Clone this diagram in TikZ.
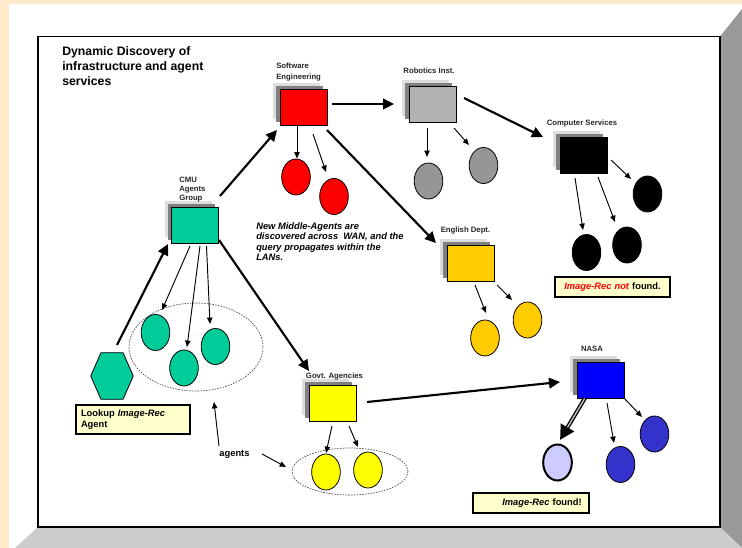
\documentclass[tikz,border=0pt]{standalone}
\usepackage{fontspec}
\setmainfont{Liberation Sans}
\usetikzlibrary{arrows.meta,calc,shapes.geometric,shadows}
\definecolor{bgorange}{HTML}{FFEACC}
\definecolor{frameright}{HTML}{999999}
\definecolor{framebottom}{HTML}{CCCCCC}
\definecolor{shadowdark}{HTML}{808080}
\definecolor{shadowlight}{HTML}{DDDDDD}
\definecolor{tealc}{HTML}{00CC99}
\definecolor{robgrey}{HTML}{B2B2B2}
\definecolor{robcirc}{HTML}{969696}
\definecolor{engc}{HTML}{FFCC00}
\definecolor{govc}{HTML}{FFFF00}
\definecolor{nasac}{HTML}{0000FF}
\definecolor{nasacirc}{HTML}{3333CC}
\definecolor{lightblue}{HTML}{CCCCFF}
\definecolor{notefill}{HTML}{FFFFCC}
\begin{document}
\begin{tikzpicture}[x=0.75pt,y=-0.75pt,
  dept/.style={draw=black, line width=0.6pt, minimum width=35.25pt, minimum height=27pt, inner sep=0pt,
    general shadow={fill=shadowlight, shadow xshift=-5.25pt, shadow yshift=4.5pt},
    general shadow={fill=shadowdark, shadow xshift=-3pt, shadow yshift=2.25pt}},
  agent/.style={ellipse, draw=black, line width=0.6pt, minimum width=21.5pt, minimum height=27pt, inner sep=0pt},
  grp/.style={ellipse, draw=black!70, dash pattern=on 1.2pt off 0.9pt, line width=0.5pt, inner sep=0pt},
  lbl/.style={font=\fontsize{5.8}{8}\selectfont\bfseries, inner sep=0pt, text=black!85},
  note/.style={draw=black, line width=1.5pt, fill=notefill, inner sep=0pt, minimum height=15pt,
    font=\fontsize{7}{8}\selectfont\bfseries},
  thick arrow/.style={line width=1.6pt, -{Triangle[length=8.25pt,width=8pt]}},
  thin arrow/.style={line width=0.7pt, -{Triangle[length=4.8pt,width=4pt]}},
  dbl arrow/.style={line width=3pt, -{Triangle[length=11pt,width=11pt]}},
  dbl core/.style={draw=gray!45, line width=1pt, shorten >=11pt, shorten <=0.5pt},
]
\useasboundingbox (0,0) rectangle (742,548);
% slide frame
\fill[bgorange] (0,0) rectangle (742,548);
\fill[white] (9,4) rectangle (742,548);
\fill[frameright] (720,36.5) -- (742,9) -- (742,548) -- (720,527) -- cycle;
\fill[framebottom] (38,527) -- (720,527) -- (742,548) -- (15,548) -- cycle;
\draw[line width=1pt, fill=white] (38,36.5) rectangle (720,527);

% title
\node[anchor=north west, inner sep=0pt, align=left, font=\fontsize{9.2}{11.25}\selectfont\bfseries] (title) at (62,46)
  {Dynamic Discovery of\\infrastructure and agent\\services};

% department boxes
\node[dept, fill=red] (se) at (303.5,107) {};
\node[dept, fill=robgrey] (rob) at (432.5,104) {};
\node[dept, fill=black] (cs) at (583.5,155) {};
\node[dept, fill=engc] (eng) at (470.5,263) {};
\node[dept, fill=tealc] (cmu) at (195,225.5) {};
\node[dept, fill=govc] (govt) at (332.5,403.5) {};
\node[dept, fill=nasac] (nasa) at (600.5,380) {};

% labels
\node[lbl, anchor=north west, align=left] (selabel) at (276,63) {Software\\Engineering};
\node[lbl] (roblabel) at (429,71) {Robotics Inst.};
\node[lbl] (cslabel) at (582,124) {Computer Services};
\node[lbl] (englabel) at (465.5,231) {English Dept.};
\node[lbl, anchor=north west, align=left, font=\fontsize{5.8}{6.75}\selectfont\bfseries] (cmulabel) at (179,176.5) {CMU\\Agents\\Group};
\node[lbl] (govlabel) at (334.5,377) {Govt. Agencies};
\node[lbl] (nasalabel) at (592,349) {NASA};

% groups
\node[grp, minimum width=100.5pt, minimum height=66pt] (cmuell) at (196,347) {};
\node[grp, minimum width=87pt, minimum height=35.25pt] (gell) at (350,471.5) {};

% agents
\node[agent, fill=red] (sec1) at (296,177) {};
\node[agent, fill=red] (sec2) at (334,196.5) {};
\node[agent, fill=robcirc] (robc1) at (428.5,181) {};
\node[agent, fill=robcirc] (robc2) at (483.5,165.5) {};
\node[agent, fill=black] (csc1) at (647.5,194) {};
\node[agent, fill=black] (csc2) at (586.5,252.5) {};
\node[agent, fill=black] (csc3) at (627,245) {};
\node[agent, fill=engc] (engc1) at (485,338) {};
\node[agent, fill=engc] (engc2) at (527.5,320) {};
\node[agent, fill=tealc] (cmuc1) at (155.5,332.5) {};
\node[agent, fill=tealc] (cmuc2) at (184,368) {};
\node[agent, fill=tealc] (cmuc3) at (215.5,346.5) {};
\node[agent, fill=govc] (gc1) at (326,472) {};
\node[agent, fill=govc] (gc2) at (368,470) {};
\node[agent, fill=lightblue, line width=1.5pt] (nc1) at (557.5,462.5) {};
\node[agent, fill=nasacirc] (nc2) at (620.5,464.5) {};
\node[agent, fill=nasacirc] (nc3) at (654.5,434) {};

% lookup agent (hexagon)
\node[minimum width=31.5pt, minimum height=34.5pt, inner sep=0pt] (hex) at (112,376) {};
\filldraw[fill=tealc, draw=black, line width=0.6pt] (hex.west)
  -- ($(hex.north west)!0.24!(hex.north east)$) -- ($(hex.north west)!0.76!(hex.north east)$)
  -- (hex.east)
  -- ($(hex.south west)!0.76!(hex.south east)$) -- ($(hex.south west)!0.24!(hex.south east)$) -- cycle;

% notes
\node[note, minimum width=85.5pt, minimum height=21.75pt, text width=78pt, align=left,
  font=\fontsize{7}{8}\selectfont\bfseries] (lookup) at (133,419.5) {Lookup \textit{Image-Rec}\\Agent};
\node[note, minimum width=86.25pt, text width=80pt, align=center] (notfound) at (612.5,287)
  {{\color{red}\itshape Image-Rec not} found.};
\node[note, minimum width=87pt, text width=76pt, align=right] (found) at (531,503)
  {\textit{Image-Rec} found!};

% explanation
\node[anchor=north west, inner sep=0pt, align=left, font=\fontsize{7}{7.75}\selectfont\bfseries\itshape] (expl) at (256,222.6)
  {New Middle-Agents are\\discovered across\ \ WAN, and the\\query propagates within the\\LANs.};
\node[inner sep=0pt, font=\fontsize{7}{8}\selectfont\bfseries] (agents) at (234.5,454) {agents};

% thick connectors
\draw[thick arrow] ($(hex)+(5,-31)$) -- ($(cmu)+(-27,18.5)$);
\draw[thick arrow] ($(cmu)+(25,-29.5)$) -- ($(se)+(-26.5,23)$);
\draw[thick arrow] ($(cmu)+(24,14.5)$) -- ($(govt)+(-23.5,-32.5)$);
\draw[thick arrow] ($(se)+(28.5,-3)$) -- ($(rob)+(-38.5,0)$);
\draw[thick arrow] ($(se)+(23.5,23)$) -- ($(eng)+(-34.5,-20)$);
\draw[thick arrow] ($(rob)+(31.5,-6)$) -- ($(cs)+(-40.5,-18)$);
\draw[thick arrow] ($(govt)+(34.5,-1.5)$) -- ($(nasa)+(-40.5,2)$);

% thin connectors
\draw[thin arrow] ($(se)+(-6.5,19)$) -- ($(sec1)+(1,-18.5)$);
\draw[thin arrow] ($(se)+(9.5,27)$) -- ($(sec2)+(-8,-24.5)$);
\draw[thin arrow] ($(rob)+(-5.5,24)$) -- ($(robc1)+(-1.5,-24)$);
\draw[thin arrow] ($(rob)+(21.5,24)$) -- ($(robc2)+(-14.5,-20.5)$);
\draw[thin arrow] ($(cs)+(27.5,5)$) -- ($(csc1)+(-16.5,-15)$);
\draw[thin arrow] ($(cs)+(-8.5,23)$) -- ($(csc2)+(-3.5,-22.5)$);
\draw[thin arrow] ($(cs)+(14.5,22)$) -- ($(csc3)+(-12,-23)$);
\draw[thin arrow] ($(eng)+(4.5,22)$) -- ($(engc1)+(1,-25)$);
\draw[thin arrow] ($(eng)+(26.5,22)$) -- ($(engc2)+(-15.5,-20)$);
\draw[thin arrow] ($(cmu)+(-5,20.5)$) -- ($(cmuc1)+(6.5,-22.5)$);
\draw[thin arrow] ($(cmu)+(5,20.5)$) -- ($(cmuc2)+(3,-21)$);
\draw[thin arrow] ($(cmu)+(11.5,20.5)$) -- ($(cmuc3)+(-5.5,-22.5)$);
\draw[thin arrow] ($(govt)+(-0.5,22.5)$) -- ($(gc1)+(0,-19)$);
\draw[thin arrow] ($(govt)+(16.5,22.5)$) -- ($(gc2)+(-10,-23)$);
\draw[thin arrow] ($(nasa)+(6.5,23)$) -- ($(nc2)+(-6.5,-21.5)$);
\draw[thin arrow] ($(nasa)+(23.5,18)$) -- ($(nc3)+(-12.5,-17)$);
\draw[thin arrow] ($(agents)+(-15.5,-8)$) -- ($(cmuell)+(18,55)$);
\draw[thin arrow] ($(agents)+(27.5,0)$) -- ($(gell)+(-64,-4.5)$);

% double connector to the found agent
\draw[dbl arrow] ($(nasa)+(-15.5,18)$) -- ($(nc1)+(2.5,-22.5)$);
\draw[dbl core] ($(nasa)+(-15.5,18)$) -- ($(nc1)+(2.5,-22.5)$);
\end{tikzpicture}
\end{document}
